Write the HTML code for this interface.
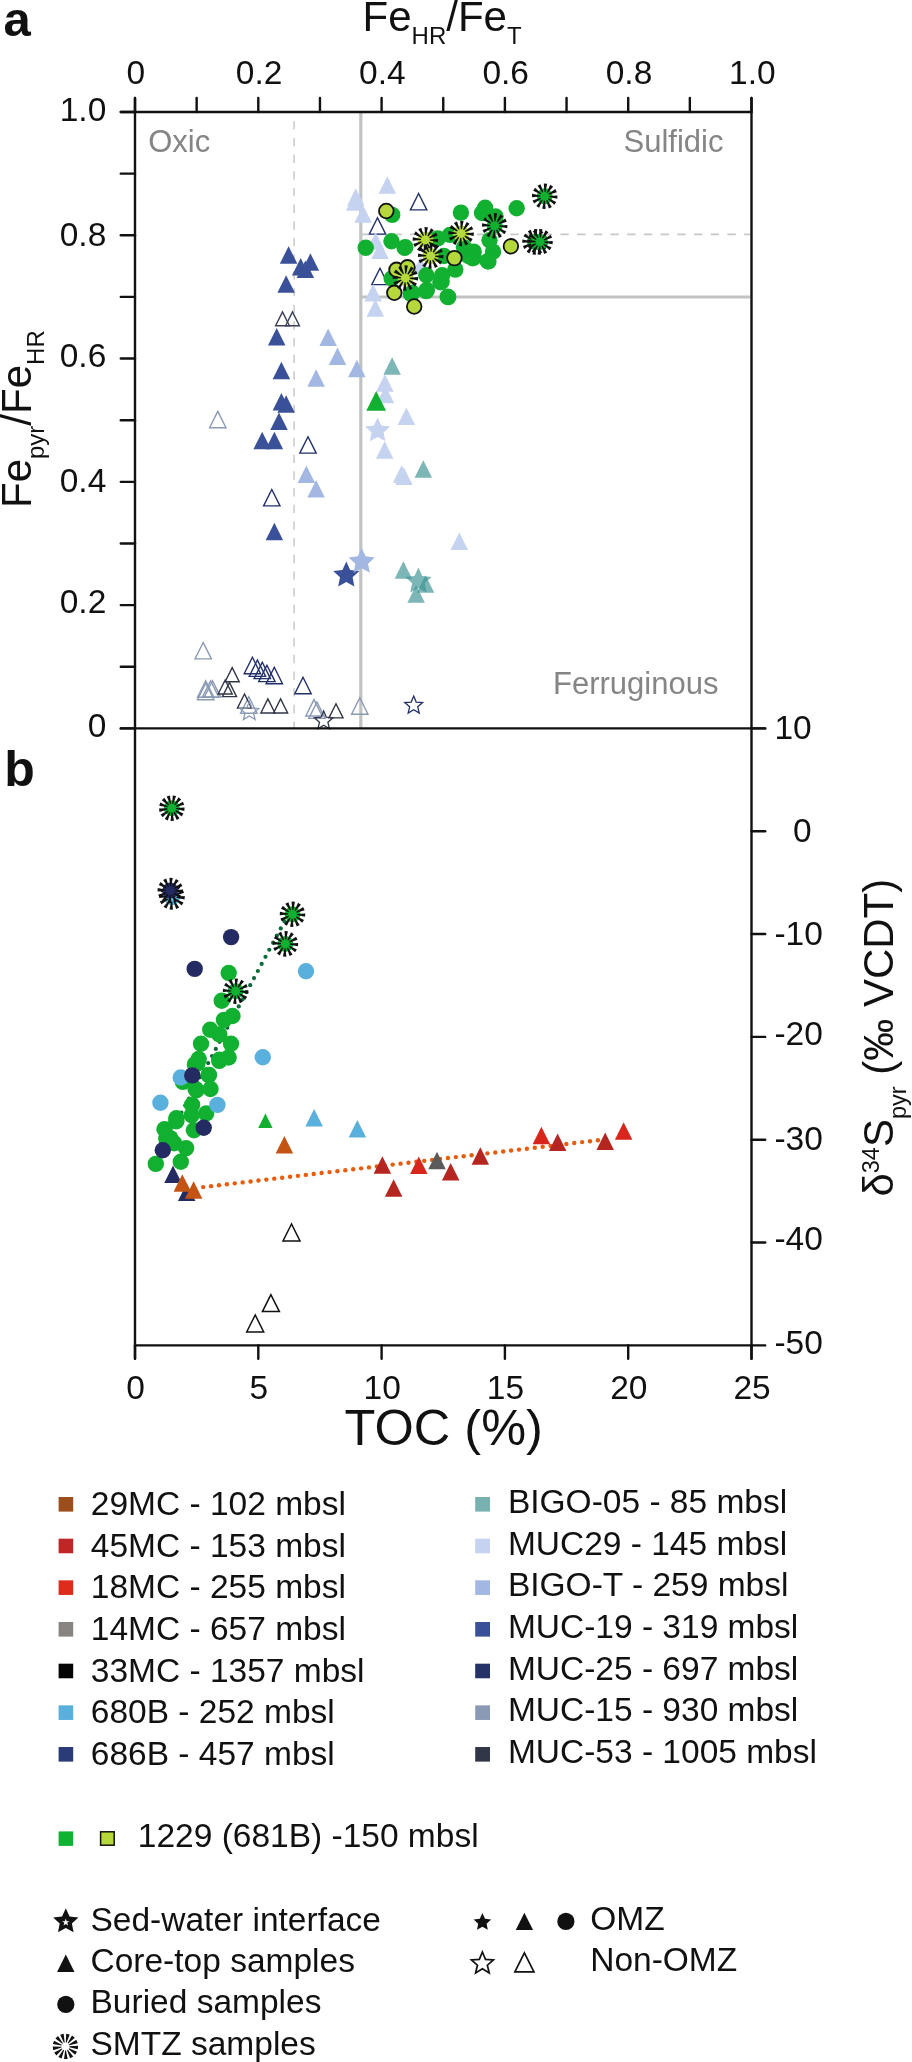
<!DOCTYPE html>
<html><head><meta charset="utf-8"><style>
html,body{margin:0;padding:0;background:#fff;}
body{width:912px;height:2062px;overflow:hidden;font-family:"Liberation Sans",sans-serif;}
svg{display:block;will-change:transform;}
</style></head><body>
<svg width="912" height="2062" viewBox="0 0 912 2062" font-family="Liberation Sans, sans-serif">
<rect width="912" height="2062" fill="#fff"/>
<line x1="294.1" y1="121.2" x2="294.1" y2="728" stroke="#cfcfcf" stroke-width="1.7" stroke-dasharray="8.4 8.275"/>
<line x1="360.8" y1="113" x2="360.8" y2="728" stroke="#c1c3c2" stroke-width="3.2"/>
<line x1="361" y1="297" x2="750" y2="297" stroke="#c1c3c2" stroke-width="3.2"/>
<line x1="360" y1="234.3" x2="750" y2="234.3" stroke="#c8c8c8" stroke-width="1.7" stroke-dasharray="8.4 8.3"/>
<text x="148.2" y="152.2" font-size="31" text-anchor="start" fill="#858585">Oxic</text>
<text x="623.5" y="152.2" font-size="31" text-anchor="start" fill="#858585">Sulfidic</text>
<text x="553" y="694.4" font-size="31" text-anchor="start" fill="#858585">Ferruginous</text>
<polygon points="217.8,411.4 209.6,427.8 226,427.8" fill="none" stroke="#8a9ab5" stroke-width="1.4"/>
<polygon points="203.2,642.5 195,658.9 211.4,658.9" fill="none" stroke="#8a9ab5" stroke-width="1.4"/>
<polygon points="205.7,680.8 197.5,697.2 213.9,697.2" fill="none" stroke="#8a9ab5" stroke-width="1.4"/>
<polygon points="205.7,683.3 197.5,699.7 213.9,699.7" fill="none" stroke="#8a9ab5" stroke-width="1.4"/>
<polygon points="210.6,680.7 202.4,697.1 218.8,697.1" fill="none" stroke="#8a9ab5" stroke-width="1.4"/>
<polygon points="212.5,680.7 204.3,697.1 220.7,697.1" fill="none" stroke="#8a9ab5" stroke-width="1.4"/>
<polygon points="248.8,696.8 240.6,713.2 257,713.2" fill="none" stroke="#8a9ab5" stroke-width="1.4"/>
<polygon points="314,699.6 305.8,716 322.2,716" fill="none" stroke="#8a9ab5" stroke-width="1.4"/>
<polygon points="317,702 308.8,718.4 325.2,718.4" fill="none" stroke="#8a9ab5" stroke-width="1.4"/>
<polygon points="359.8,697.8 351.6,714.2 368,714.2" fill="none" stroke="#8a9ab5" stroke-width="1.4"/>
<polygon points="232.2,667.65 225.15,681.75 239.25,681.75" fill="none" stroke="#323748" stroke-width="1.4"/>
<polygon points="225.2,679.95 218.15,694.05 232.25,694.05" fill="none" stroke="#323748" stroke-width="1.4"/>
<polygon points="229.5,682.55 222.45,696.65 236.55,696.65" fill="none" stroke="#323748" stroke-width="1.4"/>
<polygon points="244.5,694.05 237.45,708.15 251.55,708.15" fill="none" stroke="#323748" stroke-width="1.4"/>
<polygon points="267.9,698.85 260.85,712.95 274.95,712.95" fill="none" stroke="#323748" stroke-width="1.4"/>
<polygon points="280.6,698.85 273.55,712.95 287.65,712.95" fill="none" stroke="#323748" stroke-width="1.4"/>
<polygon points="336,703.75 328.95,717.85 343.05,717.85" fill="none" stroke="#323748" stroke-width="1.4"/>
<polygon points="252.4,657.3 244.2,673.7 260.6,673.7" fill="none" stroke="#22306a" stroke-width="1.4"/>
<polygon points="257.4,660 249.2,676.4 265.6,676.4" fill="none" stroke="#22306a" stroke-width="1.4"/>
<polygon points="262.3,662.2 254.1,678.6 270.5,678.6" fill="none" stroke="#22306a" stroke-width="1.4"/>
<polygon points="266.9,665.2 258.7,681.6 275.1,681.6" fill="none" stroke="#22306a" stroke-width="1.4"/>
<polygon points="274.3,667.3 266.1,683.7 282.5,683.7" fill="none" stroke="#22306a" stroke-width="1.4"/>
<polygon points="303,677.3 294.8,693.7 311.2,693.7" fill="none" stroke="#22306a" stroke-width="1.4"/>
<polygon points="249.3,701.6 251.92,707.9 258.72,708.44 253.54,712.88 255.12,719.51 249.3,715.96 243.48,719.51 245.06,712.88 239.88,708.44 246.68,707.9" fill="none" stroke="#8a9ab5" stroke-width="1.3"/>
<polygon points="323.7,711 326.29,717.23 333.02,717.77 327.89,722.16 329.46,728.73 323.7,725.21 317.94,728.73 319.51,722.16 314.38,717.77 321.11,717.23" fill="none" stroke="#323748" stroke-width="1.3"/>
<polygon points="413.7,696.1 416.19,702.08 422.64,702.6 417.72,706.81 419.23,713.1 413.7,709.73 408.17,713.1 409.68,706.81 404.76,702.6 411.21,702.08" fill="none" stroke="#22306a" stroke-width="1.3"/>
<polygon points="282.5,311.9 275.6,325.7 289.4,325.7" fill="none" stroke="#3a4058" stroke-width="1.4"/>
<polygon points="292.5,311.9 285.6,325.7 299.4,325.7" fill="none" stroke="#3a4058" stroke-width="1.4"/>
<polygon points="308,436.7 299.8,453.1 316.2,453.1" fill="none" stroke="#22306a" stroke-width="1.4"/>
<polygon points="271.8,489.5 263.6,505.9 280,505.9" fill="none" stroke="#22306a" stroke-width="1.4"/>
<polygon points="418.6,193.5 410.4,209.9 426.8,209.9" fill="none" stroke="#22306a" stroke-width="1.4"/>
<polygon points="377.5,217.7 369.3,234.1 385.7,234.1" fill="none" stroke="#22306a" stroke-width="1.4"/>
<polygon points="380,268.2 371.8,284.6 388.2,284.6" fill="none" stroke="#22306a" stroke-width="1.4"/>
<polygon points="288.6,246.15 279.85,263.65 297.35,263.65" fill="#3a5199"/>
<polygon points="300.7,257.95 291.95,275.45 309.45,275.45" fill="#3a5199"/>
<polygon points="310.4,253.35 301.65,270.85 319.15,270.85" fill="#3a5199"/>
<polygon points="305.4,260.55 296.65,278.05 314.15,278.05" fill="#3a5199"/>
<polygon points="286.1,275.15 277.35,292.65 294.85,292.65" fill="#3a5199"/>
<polygon points="276.7,328.05 267.95,345.55 285.45,345.55" fill="#3a5199"/>
<polygon points="281.4,361.65 272.65,379.15 290.15,379.15" fill="#3a5199"/>
<polygon points="281.4,392.95 272.65,410.45 290.15,410.45" fill="#3a5199"/>
<polygon points="286.1,395.35 277.35,412.85 294.85,412.85" fill="#3a5199"/>
<polygon points="279,412.45 270.25,429.95 287.75,429.95" fill="#3a5199"/>
<polygon points="262.2,431.65 253.45,449.15 270.95,449.15" fill="#3a5199"/>
<polygon points="274.4,431.65 265.65,449.15 283.15,449.15" fill="#3a5199"/>
<polygon points="274.4,522.65 265.65,540.15 283.15,540.15" fill="#3a5199"/>
<polygon points="346.3,561.5 350.19,569.94 359.42,571.04 352.6,577.35 354.41,586.46 346.3,581.92 338.19,586.46 340,577.35 333.18,571.04 342.41,569.94" fill="#3a5199"/>
<polygon points="328.1,328.45 319.35,345.95 336.85,345.95" fill="#a3b7e3"/>
<polygon points="337.5,347.55 328.75,365.05 346.25,365.05" fill="#a3b7e3"/>
<polygon points="356.9,359.75 348.15,377.25 365.65,377.25" fill="#a3b7e3"/>
<polygon points="316.1,369.35 307.35,386.85 324.85,386.85" fill="#a3b7e3"/>
<polygon points="306.4,465.55 297.65,483.05 315.15,483.05" fill="#a3b7e3"/>
<polygon points="316.1,480.05 307.35,497.55 324.85,497.55" fill="#a3b7e3"/>
<polygon points="361.7,547.9 365.59,556.34 374.82,557.44 368,563.75 369.81,572.86 361.7,568.32 353.59,572.86 355.4,563.75 348.58,557.44 357.81,556.34" fill="#a3b7e3"/>
<polygon points="355.8,188.25 347.05,205.75 364.55,205.75" fill="#c5d3f0"/>
<polygon points="354.7,193.25 345.95,210.75 363.45,210.75" fill="#c5d3f0"/>
<polygon points="363.1,205.25 354.35,222.75 371.85,222.75" fill="#c5d3f0"/>
<polygon points="387.3,176.35 378.55,193.85 396.05,193.85" fill="#c5d3f0"/>
<polygon points="375.6,232.15 366.85,249.65 384.35,249.65" fill="#c5d3f0"/>
<polygon points="380,241.45 371.25,258.95 388.75,258.95" fill="#c5d3f0"/>
<polygon points="373.1,284.05 364.35,301.55 381.85,301.55" fill="#c5d3f0"/>
<polygon points="375.3,299.35 366.55,316.85 384.05,316.85" fill="#c5d3f0"/>
<polygon points="420.5,256.75 411.75,274.25 429.25,274.25" fill="#c5d3f0"/>
<polygon points="384.9,374.25 376.15,391.75 393.65,391.75" fill="#c5d3f0"/>
<polygon points="385.5,385.75 376.75,403.25 394.25,403.25" fill="#c5d3f0"/>
<polygon points="406.4,407.55 397.65,425.05 415.15,425.05" fill="#c5d3f0"/>
<polygon points="384.7,441.35 375.95,458.85 393.45,458.85" fill="#c5d3f0"/>
<polygon points="401.6,465.15 392.85,482.65 410.35,482.65" fill="#c5d3f0"/>
<polygon points="403.9,467.55 395.15,485.05 412.65,485.05" fill="#c5d3f0"/>
<polygon points="459.3,532.45 450.55,549.95 468.05,549.95" fill="#c5d3f0"/>
<polygon points="377.6,417.4 381.32,425.47 390.15,426.52 383.63,432.56 385.36,441.28 377.6,436.94 369.84,441.28 371.57,432.56 365.05,426.52 373.88,425.47" fill="#c5d3f0"/>
<polygon points="392.1,357.25 383.35,374.75 400.85,374.75" fill="#3e9494" fill-opacity="0.68"/>
<polygon points="423.3,460.15 414.55,477.65 432.05,477.65" fill="#3e9494" fill-opacity="0.68"/>
<polygon points="403.4,561.25 394.65,578.75 412.15,578.75" fill="#3e9494" fill-opacity="0.68"/>
<polygon points="425.5,575.25 416.75,592.75 434.25,592.75" fill="#3e9494" fill-opacity="0.68"/>
<polygon points="416.1,585.35 407.35,602.85 424.85,602.85" fill="#3e9494" fill-opacity="0.68"/>
<polygon points="418.4,567.5 422.29,575.94 431.52,577.04 424.7,583.35 426.51,592.46 418.4,587.92 410.29,592.46 412.1,583.35 405.28,577.04 414.51,575.94" fill="#3e9494" fill-opacity="0.68"/>
<polygon points="376.2,391 366.3,410.8 386.1,410.8" fill="#12b030"/>
<circle cx="392.2" cy="214.9" r="8.2" fill="#12b030"/>
<circle cx="365.7" cy="247.8" r="8.2" fill="#12b030"/>
<circle cx="391.5" cy="241.2" r="8.2" fill="#12b030"/>
<circle cx="404.6" cy="247.8" r="8.2" fill="#12b030"/>
<circle cx="391.7" cy="278.5" r="8.2" fill="#12b030"/>
<circle cx="460.9" cy="212.6" r="8.2" fill="#12b030"/>
<circle cx="485.1" cy="207.7" r="8.2" fill="#12b030"/>
<circle cx="495.6" cy="216.5" r="8.2" fill="#12b030"/>
<circle cx="516.7" cy="208.2" r="8.2" fill="#12b030"/>
<circle cx="405.3" cy="247.2" r="8.2" fill="#12b030"/>
<circle cx="437.7" cy="238.4" r="8.2" fill="#12b030"/>
<circle cx="450" cy="234.9" r="8.2" fill="#12b030"/>
<circle cx="489.5" cy="240.2" r="8.2" fill="#12b030"/>
<circle cx="473.7" cy="251.6" r="8.2" fill="#12b030"/>
<circle cx="493" cy="251.6" r="8.2" fill="#12b030"/>
<circle cx="468.4" cy="256" r="8.2" fill="#12b030"/>
<circle cx="473.7" cy="257.7" r="8.2" fill="#12b030"/>
<circle cx="487.7" cy="261.2" r="8.2" fill="#12b030"/>
<circle cx="443.9" cy="256" r="8.2" fill="#12b030"/>
<circle cx="455.3" cy="269.6" r="8.2" fill="#12b030"/>
<circle cx="442.1" cy="275.3" r="8.2" fill="#12b030"/>
<circle cx="426.3" cy="275.3" r="8.2" fill="#12b030"/>
<circle cx="440.4" cy="282.3" r="8.2" fill="#12b030"/>
<circle cx="426.3" cy="291.1" r="8.2" fill="#12b030"/>
<circle cx="412.3" cy="292.8" r="8.2" fill="#12b030"/>
<circle cx="447.7" cy="296.7" r="8.2" fill="#12b030"/>
<circle cx="464" cy="247.2" r="8.2" fill="#12b030"/>
<circle cx="410.9" cy="293.9" r="8.2" fill="#12b030"/>
<circle cx="426.8" cy="290" r="8.2" fill="#12b030"/>
<circle cx="441.6" cy="281.8" r="8.2" fill="#12b030"/>
<circle cx="448.2" cy="297.1" r="8.2" fill="#12b030"/>
<circle cx="488.4" cy="261.4" r="8.2" fill="#12b030"/>
<circle cx="472.6" cy="258.3" r="8.2" fill="#12b030"/>
<circle cx="482" cy="213" r="8.2" fill="#12b030"/>
<circle cx="386.3" cy="211" r="7.3" fill="#b5d93c" stroke="#111" stroke-width="1.8"/>
<circle cx="396.5" cy="269.8" r="7.3" fill="#b5d93c" stroke="#111" stroke-width="1.8"/>
<circle cx="407.5" cy="267.3" r="7.3" fill="#b5d93c" stroke="#111" stroke-width="1.8"/>
<circle cx="394.3" cy="292.8" r="7.3" fill="#b5d93c" stroke="#111" stroke-width="1.8"/>
<circle cx="414.2" cy="306.5" r="7.3" fill="#b5d93c" stroke="#111" stroke-width="1.8"/>
<circle cx="454.4" cy="258.1" r="7.3" fill="#b5d93c" stroke="#111" stroke-width="1.8"/>
<circle cx="510.9" cy="246.3" r="7.3" fill="#b5d93c" stroke="#111" stroke-width="1.8"/>
<circle cx="425.4" cy="239.8" r="8" fill="#b5d93c"/>
<path d="M429.76 240.62 L437.97 242.27 L438.18 238.88 L429.83 239.52ZM428.77 242.69 L435.05 248.23 L436.93 245.39 L429.37 241.77ZM426.87 243.98 L429.55 251.92 L432.59 250.41 L427.86 243.49ZM424.58 244.16 L422.93 252.37 L426.32 252.58 L425.68 244.23ZM422.51 243.17 L416.97 249.45 L419.81 251.33 L423.43 243.77ZM421.22 241.27 L413.28 243.95 L414.79 246.99 L421.71 242.26ZM421.04 238.98 L412.83 237.33 L412.62 240.72 L420.97 240.08ZM422.03 236.91 L415.75 231.37 L413.87 234.21 L421.43 237.83ZM423.93 235.62 L421.25 227.68 L418.21 229.19 L422.94 236.11ZM426.22 235.44 L427.87 227.23 L424.48 227.02 L425.12 235.37ZM428.29 236.43 L433.83 230.15 L430.99 228.27 L427.37 235.83ZM429.58 238.33 L437.52 235.65 L436.01 232.61 L429.09 237.34Z" fill="#111"/>
<circle cx="430.7" cy="256" r="8" fill="#b5d93c"/>
<path d="M435.06 256.82 L443.27 258.47 L443.48 255.08 L435.13 255.72ZM434.07 258.89 L440.35 264.43 L442.23 261.59 L434.67 257.97ZM432.17 260.18 L434.85 268.12 L437.89 266.61 L433.16 259.69ZM429.88 260.36 L428.23 268.57 L431.62 268.78 L430.98 260.43ZM427.81 259.37 L422.27 265.65 L425.11 267.53 L428.73 259.97ZM426.52 257.47 L418.58 260.15 L420.09 263.19 L427.01 258.46ZM426.34 255.18 L418.13 253.53 L417.92 256.92 L426.27 256.28ZM427.33 253.11 L421.05 247.57 L419.17 250.41 L426.73 254.03ZM429.23 251.82 L426.55 243.88 L423.51 245.39 L428.24 252.31ZM431.52 251.64 L433.17 243.43 L429.78 243.22 L430.42 251.57ZM433.59 252.63 L439.13 246.35 L436.29 244.47 L432.67 252.03ZM434.88 254.53 L442.82 251.85 L441.31 248.81 L434.39 253.54Z" fill="#111"/>
<circle cx="461.1" cy="233.5" r="8" fill="#b5d93c"/>
<path d="M465.46 234.32 L473.67 235.97 L473.88 232.58 L465.53 233.22ZM464.47 236.39 L470.75 241.93 L472.63 239.09 L465.07 235.47ZM462.57 237.68 L465.25 245.62 L468.29 244.11 L463.56 237.19ZM460.28 237.86 L458.63 246.07 L462.02 246.28 L461.38 237.93ZM458.21 236.87 L452.67 243.15 L455.51 245.03 L459.13 237.47ZM456.92 234.97 L448.98 237.65 L450.49 240.69 L457.41 235.96ZM456.74 232.68 L448.53 231.03 L448.32 234.42 L456.67 233.78ZM457.73 230.61 L451.45 225.07 L449.57 227.91 L457.13 231.53ZM459.63 229.32 L456.95 221.38 L453.91 222.89 L458.64 229.81ZM461.92 229.14 L463.57 220.93 L460.18 220.72 L460.82 229.07ZM463.99 230.13 L469.53 223.85 L466.69 221.97 L463.07 229.53ZM465.28 232.03 L473.22 229.35 L471.71 226.31 L464.79 231.04Z" fill="#111"/>
<circle cx="405.4" cy="278" r="8" fill="#b5d93c"/>
<path d="M409.76 278.82 L417.97 280.47 L418.18 277.08 L409.83 277.72ZM408.77 280.89 L415.05 286.43 L416.93 283.59 L409.37 279.97ZM406.87 282.18 L409.55 290.12 L412.59 288.61 L407.86 281.69ZM404.58 282.36 L402.93 290.57 L406.32 290.78 L405.68 282.43ZM402.51 281.37 L396.97 287.65 L399.81 289.53 L403.43 281.97ZM401.22 279.47 L393.28 282.15 L394.79 285.19 L401.71 280.46ZM401.04 277.18 L392.83 275.53 L392.62 278.92 L400.97 278.28ZM402.03 275.11 L395.75 269.57 L393.87 272.41 L401.43 276.03ZM403.93 273.82 L401.25 265.88 L398.21 267.39 L402.94 274.31ZM406.22 273.64 L407.87 265.43 L404.48 265.22 L405.12 273.57ZM408.29 274.63 L413.83 268.35 L410.99 266.47 L407.37 274.03ZM409.58 276.53 L417.52 273.85 L416.01 270.81 L409.09 275.54Z" fill="#111"/>
<circle cx="544.7" cy="196.3" r="8" fill="#12b030"/>
<path d="M549.06 197.12 L557.27 198.77 L557.48 195.38 L549.13 196.02ZM548.07 199.19 L554.35 204.73 L556.23 201.89 L548.67 198.27ZM546.17 200.48 L548.85 208.42 L551.89 206.91 L547.16 199.99ZM543.88 200.66 L542.23 208.87 L545.62 209.08 L544.98 200.73ZM541.81 199.67 L536.27 205.95 L539.11 207.83 L542.73 200.27ZM540.52 197.77 L532.58 200.45 L534.09 203.49 L541.01 198.76ZM540.34 195.48 L532.13 193.83 L531.92 197.22 L540.27 196.58ZM541.33 193.41 L535.05 187.87 L533.17 190.71 L540.73 194.33ZM543.23 192.12 L540.55 184.18 L537.51 185.69 L542.24 192.61ZM545.52 191.94 L547.17 183.73 L543.78 183.52 L544.42 191.87ZM547.59 192.93 L553.13 186.65 L550.29 184.77 L546.67 192.33ZM548.88 194.83 L556.82 192.15 L555.31 189.11 L548.39 193.84Z" fill="#111"/>
<circle cx="494.7" cy="225.8" r="8" fill="#12b030"/>
<path d="M499.06 226.62 L507.27 228.27 L507.48 224.88 L499.13 225.52ZM498.07 228.69 L504.35 234.23 L506.23 231.39 L498.67 227.77ZM496.17 229.98 L498.85 237.92 L501.89 236.41 L497.16 229.49ZM493.88 230.16 L492.23 238.37 L495.62 238.58 L494.98 230.23ZM491.81 229.17 L486.27 235.45 L489.11 237.33 L492.73 229.77ZM490.52 227.27 L482.58 229.95 L484.09 232.99 L491.01 228.26ZM490.34 224.98 L482.13 223.33 L481.92 226.72 L490.27 226.08ZM491.33 222.91 L485.05 217.37 L483.17 220.21 L490.73 223.83ZM493.23 221.62 L490.55 213.68 L487.51 215.19 L492.24 222.11ZM495.52 221.44 L497.17 213.23 L493.78 213.02 L494.42 221.37ZM497.59 222.43 L503.13 216.15 L500.29 214.27 L496.67 221.83ZM498.88 224.33 L506.82 221.65 L505.31 218.61 L498.39 223.34Z" fill="#111"/>
<circle cx="535" cy="241.9" r="8" fill="#12b030"/>
<path d="M539.36 242.72 L547.57 244.37 L547.78 240.98 L539.43 241.62ZM538.37 244.79 L544.65 250.33 L546.53 247.49 L538.97 243.87ZM536.47 246.08 L539.15 254.02 L542.19 252.51 L537.46 245.59ZM534.18 246.26 L532.53 254.47 L535.92 254.68 L535.28 246.33ZM532.11 245.27 L526.57 251.55 L529.41 253.43 L533.03 245.87ZM530.82 243.37 L522.88 246.05 L524.39 249.09 L531.31 244.36ZM530.64 241.08 L522.43 239.43 L522.22 242.82 L530.57 242.18ZM531.63 239.01 L525.35 233.47 L523.47 236.31 L531.03 239.93ZM533.53 237.72 L530.85 229.78 L527.81 231.29 L532.54 238.21ZM535.82 237.54 L537.47 229.33 L534.08 229.12 L534.72 237.47ZM537.89 238.53 L543.43 232.25 L540.59 230.37 L536.97 237.93ZM539.18 240.43 L547.12 237.75 L545.61 234.71 L538.69 239.44Z" fill="#111"/>
<circle cx="540" cy="241.9" r="8" fill="#12b030"/>
<path d="M544.36 242.72 L552.57 244.37 L552.78 240.98 L544.43 241.62ZM543.37 244.79 L549.65 250.33 L551.53 247.49 L543.97 243.87ZM541.47 246.08 L544.15 254.02 L547.19 252.51 L542.46 245.59ZM539.18 246.26 L537.53 254.47 L540.92 254.68 L540.28 246.33ZM537.11 245.27 L531.57 251.55 L534.41 253.43 L538.03 245.87ZM535.82 243.37 L527.88 246.05 L529.39 249.09 L536.31 244.36ZM535.64 241.08 L527.43 239.43 L527.22 242.82 L535.57 242.18ZM536.63 239.01 L530.35 233.47 L528.47 236.31 L536.03 239.93ZM538.53 237.72 L535.85 229.78 L532.81 231.29 L537.54 238.21ZM540.82 237.54 L542.47 229.33 L539.08 229.12 L539.72 237.47ZM542.89 238.53 L548.43 232.25 L545.59 230.37 L541.97 237.93ZM544.18 240.43 L552.12 237.75 L550.61 234.71 L543.69 239.44Z" fill="#111"/>
<g fill="#0c6a38"><circle cx="288.4" cy="914.3" r="2.1"/><circle cx="284.58" cy="921.39" r="2.1"/><circle cx="280.76" cy="928.47" r="2.1"/><circle cx="276.94" cy="935.56" r="2.1"/><circle cx="273.12" cy="942.64" r="2.1"/><circle cx="269.3" cy="949.73" r="2.1"/><circle cx="265.48" cy="956.81" r="2.1"/><circle cx="261.66" cy="963.9" r="2.1"/><circle cx="257.84" cy="970.99" r="2.1"/><circle cx="254.02" cy="978.07" r="2.1"/><circle cx="250.2" cy="985.16" r="2.1"/><circle cx="246.38" cy="992.24" r="2.1"/><circle cx="242.56" cy="999.33" r="2.1"/><circle cx="238.74" cy="1006.41" r="2.1"/><circle cx="234.92" cy="1013.5" r="2.1"/><circle cx="231.1" cy="1020.59" r="2.1"/><circle cx="227.28" cy="1027.67" r="2.1"/><circle cx="223.46" cy="1034.76" r="2.1"/><circle cx="219.64" cy="1041.84" r="2.1"/><circle cx="215.81" cy="1048.93" r="2.1"/><circle cx="211.99" cy="1056.02" r="2.1"/><circle cx="208.17" cy="1063.1" r="2.1"/><circle cx="204.35" cy="1070.19" r="2.1"/><circle cx="200.53" cy="1077.27" r="2.1"/><circle cx="196.71" cy="1084.36" r="2.1"/><circle cx="192.89" cy="1091.44" r="2.1"/><circle cx="189.07" cy="1098.53" r="2.1"/><circle cx="185.25" cy="1105.62" r="2.1"/><circle cx="181.43" cy="1112.7" r="2.1"/><circle cx="177.61" cy="1119.79" r="2.1"/><circle cx="173.79" cy="1126.87" r="2.1"/></g>
<g fill="#e65c0c"><circle cx="203.2" cy="1187.1" r="2.2"/><circle cx="211.09" cy="1186.16" r="2.2"/><circle cx="218.99" cy="1185.23" r="2.2"/><circle cx="226.88" cy="1184.29" r="2.2"/><circle cx="234.78" cy="1183.35" r="2.2"/><circle cx="242.67" cy="1182.41" r="2.2"/><circle cx="250.57" cy="1181.48" r="2.2"/><circle cx="258.46" cy="1180.54" r="2.2"/><circle cx="266.36" cy="1179.6" r="2.2"/><circle cx="274.25" cy="1178.67" r="2.2"/><circle cx="282.15" cy="1177.73" r="2.2"/><circle cx="290.04" cy="1176.79" r="2.2"/><circle cx="297.94" cy="1175.86" r="2.2"/><circle cx="305.83" cy="1174.92" r="2.2"/><circle cx="313.72" cy="1173.98" r="2.2"/><circle cx="321.62" cy="1173.04" r="2.2"/><circle cx="329.51" cy="1172.11" r="2.2"/><circle cx="337.41" cy="1171.17" r="2.2"/><circle cx="345.3" cy="1170.23" r="2.2"/><circle cx="353.2" cy="1169.3" r="2.2"/><circle cx="361.09" cy="1168.36" r="2.2"/><circle cx="368.99" cy="1167.42" r="2.2"/><circle cx="376.88" cy="1166.49" r="2.2"/><circle cx="384.78" cy="1165.55" r="2.2"/><circle cx="392.67" cy="1164.61" r="2.2"/><circle cx="400.56" cy="1163.67" r="2.2"/><circle cx="408.46" cy="1162.74" r="2.2"/><circle cx="416.35" cy="1161.8" r="2.2"/><circle cx="424.25" cy="1160.86" r="2.2"/><circle cx="432.14" cy="1159.93" r="2.2"/><circle cx="440.04" cy="1158.99" r="2.2"/><circle cx="447.93" cy="1158.05" r="2.2"/><circle cx="455.83" cy="1157.11" r="2.2"/><circle cx="463.72" cy="1156.18" r="2.2"/><circle cx="471.62" cy="1155.24" r="2.2"/><circle cx="479.51" cy="1154.3" r="2.2"/><circle cx="487.41" cy="1153.37" r="2.2"/><circle cx="495.3" cy="1152.43" r="2.2"/><circle cx="503.19" cy="1151.49" r="2.2"/><circle cx="511.09" cy="1150.56" r="2.2"/><circle cx="518.98" cy="1149.62" r="2.2"/><circle cx="526.88" cy="1148.68" r="2.2"/><circle cx="534.77" cy="1147.74" r="2.2"/><circle cx="542.67" cy="1146.81" r="2.2"/><circle cx="550.56" cy="1145.87" r="2.2"/><circle cx="558.46" cy="1144.93" r="2.2"/><circle cx="566.35" cy="1144" r="2.2"/><circle cx="574.25" cy="1143.06" r="2.2"/><circle cx="582.14" cy="1142.12" r="2.2"/><circle cx="590.03" cy="1141.19" r="2.2"/><circle cx="597.93" cy="1140.25" r="2.2"/><circle cx="605.82" cy="1139.31" r="2.2"/></g>
<circle cx="228.7" cy="973" r="8.2" fill="#12b030"/>
<circle cx="221.7" cy="1000.7" r="8.2" fill="#12b030"/>
<circle cx="232.5" cy="1016" r="8.2" fill="#12b030"/>
<circle cx="224" cy="1019.9" r="8.2" fill="#12b030"/>
<circle cx="210.2" cy="1029.8" r="8.2" fill="#12b030"/>
<circle cx="219.4" cy="1034.5" r="8.2" fill="#12b030"/>
<circle cx="231" cy="1043.7" r="8.2" fill="#12b030"/>
<circle cx="201" cy="1043.7" r="8.2" fill="#12b030"/>
<circle cx="198.7" cy="1059" r="8.2" fill="#12b030"/>
<circle cx="194.9" cy="1064.4" r="8.2" fill="#12b030"/>
<circle cx="219.4" cy="1059.8" r="8.2" fill="#12b030"/>
<circle cx="228.6" cy="1057.5" r="8.2" fill="#12b030"/>
<circle cx="208.7" cy="1075.1" r="8.2" fill="#12b030"/>
<circle cx="182.9" cy="1081.9" r="8.2" fill="#12b030"/>
<circle cx="197.4" cy="1063.5" r="8.2" fill="#12b030"/>
<circle cx="219.3" cy="1060.9" r="8.2" fill="#12b030"/>
<circle cx="208.8" cy="1074.9" r="8.2" fill="#12b030"/>
<circle cx="196.5" cy="1090.3" r="8.2" fill="#12b030"/>
<circle cx="210.5" cy="1089" r="8.2" fill="#12b030"/>
<circle cx="192.1" cy="1104.7" r="8.2" fill="#12b030"/>
<circle cx="191.7" cy="1115.3" r="8.2" fill="#12b030"/>
<circle cx="206.1" cy="1113.5" r="8.2" fill="#12b030"/>
<circle cx="176.3" cy="1118.3" r="8.2" fill="#12b030"/>
<circle cx="193.9" cy="1130.2" r="8.2" fill="#12b030"/>
<circle cx="164.5" cy="1129.3" r="8.2" fill="#12b030"/>
<circle cx="170.2" cy="1138.1" r="8.2" fill="#12b030"/>
<circle cx="176.4" cy="1121.3" r="8.2" fill="#12b030"/>
<circle cx="174.2" cy="1143.2" r="8.2" fill="#12b030"/>
<circle cx="186.1" cy="1148.1" r="8.2" fill="#12b030"/>
<circle cx="180.8" cy="1161.7" r="8.2" fill="#12b030"/>
<circle cx="155.8" cy="1163.9" r="8.2" fill="#12b030"/>
<circle cx="166.3" cy="1138.9" r="8.2" fill="#12b030"/>
<circle cx="195.6" cy="1089" r="8.2" fill="#12b030"/>
<circle cx="306" cy="971.2" r="8.2" fill="#5ab0dc"/>
<circle cx="262.8" cy="1057.2" r="8.2" fill="#5ab0dc"/>
<circle cx="180.7" cy="1077.5" r="8.2" fill="#5ab0dc"/>
<circle cx="160.4" cy="1102.8" r="8.2" fill="#5ab0dc"/>
<circle cx="217.4" cy="1104.9" r="8.2" fill="#5ab0dc"/>
<circle cx="231.1" cy="937.1" r="8.2" fill="#242a62"/>
<circle cx="194.7" cy="968.9" r="8.2" fill="#242a62"/>
<circle cx="192.3" cy="1075.4" r="8.2" fill="#242a62"/>
<circle cx="203.7" cy="1127.7" r="8.2" fill="#242a62"/>
<circle cx="162.8" cy="1150.3" r="8.2" fill="#242a62"/>
<circle cx="171.8" cy="808.2" r="8" fill="#12b030"/>
<path d="M176.14 809.12 L184.31 810.96 L184.6 807.57 L176.23 808.02ZM175.22 811.03 L181.6 816.46 L183.43 813.59 L175.81 810.1ZM173.51 812.29 L176.64 820.06 L179.59 818.37 L174.46 811.74ZM171.41 812.62 L170.57 820.95 L173.97 820.83 L172.51 812.58ZM169.4 811.93 L164.79 818.92 L167.85 820.39 L170.4 812.41ZM167.94 810.39 L160.61 814.43 L162.64 817.16 L168.6 811.27ZM167.37 808.35 L158.99 808.52 L159.53 811.88 L167.54 809.43ZM167.81 806.27 L160.31 802.53 L159.22 805.75 L167.46 807.31ZM169.16 804.64 L164.26 797.84 L161.8 800.19 L168.36 805.4ZM171.12 803.82 L169.94 795.52 L166.67 796.46 L170.06 804.12ZM173.23 804 L176.04 796.11 L172.72 795.42 L172.16 803.78ZM175.02 805.15 L181.18 799.47 L178.55 797.31 L174.17 804.45ZM176.07 807 L184.16 804.83 L182.84 801.69 L175.64 805.98Z" fill="#111"/>
<circle cx="292.5" cy="914.3" r="8" fill="#12b030"/>
<path d="M296.86 915.12 L305.07 916.77 L305.28 913.38 L296.93 914.02ZM295.87 917.19 L302.15 922.73 L304.03 919.89 L296.47 916.27ZM293.97 918.48 L296.65 926.42 L299.69 924.91 L294.96 917.99ZM291.68 918.66 L290.03 926.87 L293.42 927.08 L292.78 918.73ZM289.61 917.67 L284.07 923.95 L286.91 925.83 L290.53 918.27ZM288.32 915.77 L280.38 918.45 L281.89 921.49 L288.81 916.76ZM288.14 913.48 L279.93 911.83 L279.72 915.22 L288.07 914.58ZM289.13 911.41 L282.85 905.87 L280.97 908.71 L288.53 912.33ZM291.03 910.12 L288.35 902.18 L285.31 903.69 L290.04 910.61ZM293.32 909.94 L294.97 901.73 L291.58 901.52 L292.22 909.87ZM295.39 910.93 L300.93 904.65 L298.09 902.77 L294.47 910.33ZM296.68 912.83 L304.62 910.15 L303.11 907.11 L296.19 911.84Z" fill="#111"/>
<circle cx="285.4" cy="943.9" r="8" fill="#12b030"/>
<path d="M289.76 944.72 L297.97 946.37 L298.18 942.98 L289.83 943.62ZM288.77 946.79 L295.05 952.33 L296.93 949.49 L289.37 945.87ZM286.87 948.08 L289.55 956.02 L292.59 954.51 L287.86 947.59ZM284.58 948.26 L282.93 956.47 L286.32 956.68 L285.68 948.33ZM282.51 947.27 L276.97 953.55 L279.81 955.43 L283.43 947.87ZM281.22 945.37 L273.28 948.05 L274.79 951.09 L281.71 946.36ZM281.04 943.08 L272.83 941.43 L272.62 944.82 L280.97 944.18ZM282.03 941.01 L275.75 935.47 L273.87 938.31 L281.43 941.93ZM283.93 939.72 L281.25 931.78 L278.21 933.29 L282.94 940.21ZM286.22 939.54 L287.87 931.33 L284.48 931.12 L285.12 939.47ZM288.29 940.53 L293.83 934.25 L290.99 932.37 L287.37 939.93ZM289.58 942.43 L297.52 939.75 L296.01 936.71 L289.09 941.44Z" fill="#111"/>
<circle cx="235.6" cy="991.2" r="8" fill="#12b030"/>
<path d="M239.96 992.02 L248.17 993.67 L248.38 990.28 L240.03 990.92ZM238.97 994.09 L245.25 999.63 L247.13 996.79 L239.57 993.17ZM237.07 995.38 L239.75 1003.32 L242.79 1001.81 L238.06 994.89ZM234.78 995.56 L233.13 1003.77 L236.52 1003.98 L235.88 995.63ZM232.71 994.57 L227.17 1000.85 L230.01 1002.73 L233.63 995.17ZM231.42 992.67 L223.48 995.35 L224.99 998.39 L231.91 993.66ZM231.24 990.38 L223.03 988.73 L222.82 992.12 L231.17 991.48ZM232.23 988.31 L225.95 982.77 L224.07 985.61 L231.63 989.23ZM234.13 987.02 L231.45 979.08 L228.41 980.59 L233.14 987.51ZM236.42 986.84 L238.07 978.63 L234.68 978.42 L235.32 986.77ZM238.49 987.83 L244.03 981.55 L241.19 979.67 L237.57 987.23ZM239.78 989.73 L247.72 987.05 L246.21 984.01 L239.29 988.74Z" fill="#111"/>
<circle cx="172" cy="897" r="8" fill="#5ab0dc"/>
<path d="M176.36 897.82 L184.57 899.47 L184.78 896.08 L176.43 896.72ZM175.37 899.89 L181.65 905.43 L183.53 902.59 L175.97 898.97ZM173.47 901.18 L176.15 909.12 L179.19 907.61 L174.46 900.69ZM171.18 901.36 L169.53 909.57 L172.92 909.78 L172.28 901.43ZM169.11 900.37 L163.57 906.65 L166.41 908.53 L170.03 900.97ZM167.82 898.47 L159.88 901.15 L161.39 904.19 L168.31 899.46ZM167.64 896.18 L159.43 894.53 L159.22 897.92 L167.57 897.28ZM168.63 894.11 L162.35 888.57 L160.47 891.41 L168.03 895.03ZM170.53 892.82 L167.85 884.88 L164.81 886.39 L169.54 893.31ZM172.82 892.64 L174.47 884.43 L171.08 884.22 L171.72 892.57ZM174.89 893.63 L180.43 887.35 L177.59 885.47 L173.97 893.03ZM176.18 895.53 L184.12 892.85 L182.61 889.81 L175.69 894.54Z" fill="#111"/>
<circle cx="170.3" cy="890.5" r="8" fill="#242a62"/>
<path d="M174.66 891.32 L182.87 892.97 L183.08 889.58 L174.73 890.22ZM173.67 893.39 L179.95 898.93 L181.83 896.09 L174.27 892.47ZM171.77 894.68 L174.45 902.62 L177.49 901.11 L172.76 894.19ZM169.48 894.86 L167.83 903.07 L171.22 903.28 L170.58 894.93ZM167.41 893.87 L161.87 900.15 L164.71 902.03 L168.33 894.47ZM166.12 891.97 L158.18 894.65 L159.69 897.69 L166.61 892.96ZM165.94 889.68 L157.73 888.03 L157.52 891.42 L165.87 890.78ZM166.93 887.61 L160.65 882.07 L158.77 884.91 L166.33 888.53ZM168.83 886.32 L166.15 878.38 L163.11 879.89 L167.84 886.81ZM171.12 886.14 L172.77 877.93 L169.38 877.72 L170.02 886.07ZM173.19 887.13 L178.73 880.85 L175.89 878.97 L172.27 886.53ZM174.48 889.03 L182.42 886.35 L180.91 883.31 L173.99 888.04Z" fill="#111"/>
<polygon points="265.4,1113.5 258.2,1127.9 272.6,1127.9" fill="#12b030"/>
<polygon points="314.1,1108.95 305.35,1126.45 322.85,1126.45" fill="#5ab0dc"/>
<polygon points="357.4,1119.95 348.65,1137.45 366.15,1137.45" fill="#5ab0dc"/>
<polygon points="284.4,1135.95 275.65,1153.45 293.15,1153.45" fill="#c45414"/>
<polygon points="173,1165.45 164.25,1182.95 181.75,1182.95" fill="#242a62"/>
<polygon points="186.7,1183.55 177.95,1201.05 195.45,1201.05" fill="#242a62"/>
<polygon points="182.3,1174.35 173.55,1191.85 191.05,1191.85" fill="#c45414"/>
<polygon points="193.6,1181.15 184.85,1198.65 202.35,1198.65" fill="#c45414"/>
<polygon points="382.4,1156.15 373.65,1173.65 391.15,1173.65" fill="#b52620"/>
<polygon points="393.6,1179.25 384.85,1196.75 402.35,1196.75" fill="#b52620"/>
<polygon points="450.7,1162.95 441.95,1180.45 459.45,1180.45" fill="#b52620"/>
<polygon points="480.3,1147.25 471.55,1164.75 489.05,1164.75" fill="#b52620"/>
<polygon points="557.6,1133.45 548.85,1150.95 566.35,1150.95" fill="#b52620"/>
<polygon points="605.2,1132.55 596.45,1150.05 613.95,1150.05" fill="#b52620"/>
<polygon points="418.8,1156.45 410.05,1173.95 427.55,1173.95" fill="#d9261c"/>
<polygon points="541.4,1126.75 532.65,1144.25 550.15,1144.25" fill="#d9261c"/>
<polygon points="623.6,1122.15 614.85,1139.65 632.35,1139.65" fill="#d9261c"/>
<polygon points="437,1151.85 428.25,1169.35 445.75,1169.35" fill="#5a5a5a"/>
<polygon points="291.5,1224 283,1241 300,1241" fill="none" stroke="#111" stroke-width="1.5"/>
<polygon points="270.9,1294.6 262.4,1311.6 279.4,1311.6" fill="none" stroke="#111" stroke-width="1.5"/>
<polygon points="255.2,1315 246.7,1332 263.7,1332" fill="none" stroke="#111" stroke-width="1.5"/>
<g stroke="#111" stroke-width="2.4" stroke-linecap="round" fill="none">
<line x1="120.8" y1="112.0" x2="751.5" y2="112.0"/>
<line x1="120.8" y1="728.4" x2="765.2" y2="728.4"/>
<line x1="135.0" y1="1345.4" x2="751.5" y2="1345.4"/>
<line x1="135.0" y1="98.0" x2="135.0" y2="1358.8"/>
<line x1="751.5" y1="98.0" x2="751.5" y2="1358.8"/>
<line x1="135" y1="98.0" x2="135" y2="112.0"/>
<line x1="196.65" y1="98.0" x2="196.65" y2="112.0"/>
<line x1="258.3" y1="98.0" x2="258.3" y2="112.0"/>
<line x1="319.95" y1="98.0" x2="319.95" y2="112.0"/>
<line x1="381.6" y1="98.0" x2="381.6" y2="112.0"/>
<line x1="443.25" y1="98.0" x2="443.25" y2="112.0"/>
<line x1="504.9" y1="98.0" x2="504.9" y2="112.0"/>
<line x1="566.55" y1="98.0" x2="566.55" y2="112.0"/>
<line x1="628.2" y1="98.0" x2="628.2" y2="112.0"/>
<line x1="689.85" y1="98.0" x2="689.85" y2="112.0"/>
<line x1="751.5" y1="98.0" x2="751.5" y2="112.0"/>
<line x1="120.8" y1="728.4" x2="135.0" y2="728.4"/>
<line x1="120.8" y1="666.76" x2="135.0" y2="666.76"/>
<line x1="120.8" y1="605.12" x2="135.0" y2="605.12"/>
<line x1="120.8" y1="543.48" x2="135.0" y2="543.48"/>
<line x1="120.8" y1="481.84" x2="135.0" y2="481.84"/>
<line x1="120.8" y1="420.2" x2="135.0" y2="420.2"/>
<line x1="120.8" y1="358.56" x2="135.0" y2="358.56"/>
<line x1="120.8" y1="296.92" x2="135.0" y2="296.92"/>
<line x1="120.8" y1="235.28" x2="135.0" y2="235.28"/>
<line x1="120.8" y1="173.64" x2="135.0" y2="173.64"/>
<line x1="120.8" y1="112" x2="135.0" y2="112"/>
<line x1="751.5" y1="728.4" x2="765.2" y2="728.4"/>
<line x1="751.5" y1="831.23" x2="765.2" y2="831.23"/>
<line x1="751.5" y1="934.07" x2="765.2" y2="934.07"/>
<line x1="751.5" y1="1036.9" x2="765.2" y2="1036.9"/>
<line x1="751.5" y1="1139.73" x2="765.2" y2="1139.73"/>
<line x1="751.5" y1="1242.57" x2="765.2" y2="1242.57"/>
<line x1="751.5" y1="1345.4" x2="765.2" y2="1345.4"/>
<line x1="135" y1="1345.4" x2="135" y2="1358.8"/>
<line x1="258.3" y1="1345.4" x2="258.3" y2="1358.8"/>
<line x1="381.6" y1="1345.4" x2="381.6" y2="1358.8"/>
<line x1="504.9" y1="1345.4" x2="504.9" y2="1358.8"/>
<line x1="628.2" y1="1345.4" x2="628.2" y2="1358.8"/>
<line x1="751.5" y1="1345.4" x2="751.5" y2="1358.8"/>
</g>
<text x="135.8" y="84.3" font-size="33.5" text-anchor="middle" fill="#111">0</text>
<text x="259.1" y="84.3" font-size="33.5" text-anchor="middle" fill="#111">0.2</text>
<text x="382.4" y="84.3" font-size="33.5" text-anchor="middle" fill="#111">0.4</text>
<text x="505.7" y="84.3" font-size="33.5" text-anchor="middle" fill="#111">0.6</text>
<text x="629" y="84.3" font-size="33.5" text-anchor="middle" fill="#111">0.8</text>
<text x="752.3" y="84.3" font-size="33.5" text-anchor="middle" fill="#111">1.0</text>
<text x="106.3" y="737.3" font-size="33.5" text-anchor="end" fill="#111">0</text>
<text x="106.3" y="612.7" font-size="33.5" text-anchor="end" fill="#111">0.2</text>
<text x="106.3" y="491.6" font-size="33.5" text-anchor="end" fill="#111">0.4</text>
<text x="106.3" y="366.6" font-size="33.5" text-anchor="end" fill="#111">0.6</text>
<text x="106.3" y="245.6" font-size="33.5" text-anchor="end" fill="#111">0.8</text>
<text x="106.3" y="121" font-size="33.5" text-anchor="end" fill="#111">1.0</text>
<text x="774.4" y="739.2" font-size="33.5" text-anchor="start" fill="#111">10</text>
<text x="793" y="841.6" font-size="33.5" text-anchor="start" fill="#111">0</text>
<text x="774.4" y="944.5" font-size="33.5" text-anchor="start" fill="#111">-10</text>
<text x="774.4" y="1044.7" font-size="33.5" text-anchor="start" fill="#111">-20</text>
<text x="774.4" y="1149.5" font-size="33.5" text-anchor="start" fill="#111">-30</text>
<text x="774.4" y="1250.1" font-size="33.5" text-anchor="start" fill="#111">-40</text>
<text x="774.4" y="1354.4" font-size="33.5" text-anchor="start" fill="#111">-50</text>
<text x="135.6" y="1398.8" font-size="33.5" text-anchor="middle" fill="#111">0</text>
<text x="258.9" y="1398.8" font-size="33.5" text-anchor="middle" fill="#111">5</text>
<text x="382.2" y="1398.8" font-size="33.5" text-anchor="middle" fill="#111">10</text>
<text x="505.5" y="1398.8" font-size="33.5" text-anchor="middle" fill="#111">15</text>
<text x="628.8" y="1398.8" font-size="33.5" text-anchor="middle" fill="#111">20</text>
<text x="752.1" y="1398.8" font-size="33.5" text-anchor="middle" fill="#111">25</text>
<text x="362.6" y="31.4" font-size="42" text-anchor="start" fill="#111">Fe<tspan font-size="24" dy="13">HR</tspan><tspan dy="-13">/Fe</tspan><tspan font-size="24" dy="13">T</tspan></text>
<g transform="translate(30.6,508) rotate(-90)">
<text x="0" y="0" font-size="42" text-anchor="start" fill="#111">Fe<tspan font-size="24" dy="13">pyr</tspan><tspan dy="-13">/Fe</tspan><tspan font-size="24" dy="13">HR</tspan></text>
</g>
<g transform="translate(893.2,1196.6) rotate(-90)">
<text x="0" y="0" font-size="42" text-anchor="start" fill="#111">δ<tspan font-size="23.5" dy="-14.3">34</tspan><tspan dy="14.3">S</tspan><tspan font-size="23.5" dy="12.5">pyr</tspan><tspan dy="-12.5"> (‰ VCDT)</tspan></text>
</g>
<text x="344.6" y="1445.2" font-size="50.5" text-anchor="start" fill="#111">TOC (%)</text>
<text x="3.6" y="36.3" font-size="49" text-anchor="start" font-weight="bold" fill="#111">a</text>
<text x="4.2" y="786" font-size="50" text-anchor="start" font-weight="bold" fill="#111">b</text>
<rect x="58.6" y="1497" width="14.6" height="14.6" fill="#9a4f1c"/>
<text x="90.8" y="1515" font-size="33.5" text-anchor="start" fill="#111">29MC - 102 mbsl</text>
<rect x="58.6" y="1538.67" width="14.6" height="14.6" fill="#bf2726"/>
<text x="90.8" y="1556.67" font-size="33.5" text-anchor="start" fill="#111">45MC - 153 mbsl</text>
<rect x="58.6" y="1580.34" width="14.6" height="14.6" fill="#dd2b1c"/>
<text x="90.8" y="1598.34" font-size="33.5" text-anchor="start" fill="#111">18MC - 255 mbsl</text>
<rect x="58.6" y="1622.01" width="14.6" height="14.6" fill="#878380"/>
<text x="90.8" y="1640.01" font-size="33.5" text-anchor="start" fill="#111">14MC - 657 mbsl</text>
<rect x="58.6" y="1663.68" width="14.6" height="14.6" fill="#050505"/>
<text x="90.8" y="1681.68" font-size="33.5" text-anchor="start" fill="#111">33MC - 1357 mbsl</text>
<rect x="58.6" y="1705.35" width="14.6" height="14.6" fill="#5ab0dc"/>
<text x="90.8" y="1723.35" font-size="33.5" text-anchor="start" fill="#111">680B - 252 mbsl</text>
<rect x="58.6" y="1747.02" width="14.6" height="14.6" fill="#2b3b78"/>
<text x="90.8" y="1765.02" font-size="33.5" text-anchor="start" fill="#111">686B - 457 mbsl</text>
<rect x="475.2" y="1497" width="14.8" height="14.6" fill="#78b1b0"/>
<text x="507.9" y="1512.9" font-size="33.5" text-anchor="start" fill="#111">BIGO-05 - 85 mbsl</text>
<rect x="475.2" y="1538.67" width="14.8" height="14.6" fill="#c5d3f0"/>
<text x="507.9" y="1554.57" font-size="33.5" text-anchor="start" fill="#111">MUC29 - 145 mbsl</text>
<rect x="475.2" y="1580.34" width="14.8" height="14.6" fill="#a3b7e3"/>
<text x="507.9" y="1596.24" font-size="33.5" text-anchor="start" fill="#111">BIGO-T - 259 mbsl</text>
<rect x="475.2" y="1622.01" width="14.8" height="14.6" fill="#3a5199"/>
<text x="507.9" y="1637.91" font-size="33.5" text-anchor="start" fill="#111">MUC-19 - 319 mbsl</text>
<rect x="475.2" y="1663.68" width="14.8" height="14.6" fill="#243265"/>
<text x="507.9" y="1679.58" font-size="33.5" text-anchor="start" fill="#111">MUC-25 - 697 mbsl</text>
<rect x="475.2" y="1705.35" width="14.8" height="14.6" fill="#8a9ab5"/>
<text x="507.9" y="1721.25" font-size="33.5" text-anchor="start" fill="#111">MUC-15 - 930 mbsl</text>
<rect x="475.2" y="1747.02" width="14.8" height="14.6" fill="#323748"/>
<text x="507.9" y="1762.92" font-size="33.5" text-anchor="start" fill="#111">MUC-53 - 1005 mbsl</text>
<rect x="58.6" y="1831.4" width="14.5" height="14.5" fill="#10b232"/>
<rect x="100.6" y="1831.8" width="13.6" height="13.4" fill="#b5d93c" stroke="#111" stroke-width="1.5"/>
<text x="137.8" y="1846.6" font-size="33.5" text-anchor="start" fill="#111">1229 (681B) -150 mbsl</text>
<polygon points="65.8,1908.3 69.55,1916.44 78.45,1917.49 71.87,1923.57 73.62,1932.36 65.8,1927.98 57.98,1932.36 59.73,1923.57 53.15,1917.49 62.05,1916.44" fill="#111"/>
<polygon points="65.8,1918.5 66.68,1921.19 69.51,1921.19 67.22,1922.86 68.09,1925.56 65.8,1923.89 63.51,1925.56 64.38,1922.86 62.09,1921.19 64.92,1921.19" fill="#fff"/>
<polygon points="65.8,1954.5 57.1,1971.9 74.5,1971.9" fill="#111"/>
<circle cx="65.8" cy="2004.4" r="8.6" fill="#111"/>
<path d="M69.35 2047.13 L77.81 2049.25 L78.11 2045.66 L69.42 2046.34ZM68.56 2048.89 L75.06 2054.69 L76.99 2051.65 L68.99 2048.21ZM67.04 2050.07 L70.1 2058.23 L73.23 2056.44 L67.74 2049.67ZM65.15 2050.41 L64.07 2059.06 L67.67 2058.92 L65.95 2050.38ZM63.31 2049.84 L58.34 2056.99 L61.59 2058.54 L64.03 2050.18ZM61.96 2048.47 L54.23 2052.49 L56.38 2055.38 L62.43 2049.11ZM61.39 2046.63 L52.67 2046.6 L53.24 2050.16 L61.51 2047.42ZM61.74 2044.74 L54.04 2040.67 L52.89 2044.08 L61.48 2045.5ZM62.93 2043.23 L58 2036.04 L55.4 2038.53 L62.35 2043.78ZM64.68 2042.44 L63.66 2033.79 L60.2 2034.78 L63.91 2042.66ZM66.6 2042.56 L69.72 2034.43 L66.2 2033.7 L65.82 2042.4ZM68.25 2043.56 L74.79 2037.81 L72.01 2035.52 L67.63 2043.06ZM69.24 2045.21 L77.71 2043.16 L76.31 2039.84 L68.93 2044.48Z" fill="#111"/>
<text x="90.5" y="1930.5" font-size="33.5" text-anchor="start" fill="#111">Sed-water interface</text>
<text x="90.5" y="1971.5" font-size="33.5" text-anchor="start" fill="#111">Core-top samples</text>
<text x="90.5" y="2013.2" font-size="33.5" text-anchor="start" fill="#111">Buried samples</text>
<text x="90.5" y="2054.8" font-size="33.5" text-anchor="start" fill="#111">SMTZ samples</text>
<polygon points="482.4,1913.1 485,1918.73 491.15,1919.46 486.6,1923.66 487.81,1929.74 482.4,1926.72 476.99,1929.74 478.2,1923.66 473.65,1919.46 479.8,1918.73" fill="#111"/>
<polygon points="524.4,1912.75 515.75,1930.05 533.05,1930.05" fill="#111"/>
<circle cx="565.9" cy="1921.4" r="8.6" fill="#111"/>
<polygon points="482.4,1952 485.47,1959.38 493.43,1960.02 487.36,1965.21 489.22,1972.98 482.4,1968.82 475.58,1972.98 477.44,1965.21 471.37,1960.02 479.33,1959.38" fill="none" stroke="#111" stroke-width="1.7"/>
<polygon points="524.4,1952.85 514.85,1971.95 533.95,1971.95" fill="none" stroke="#111" stroke-width="1.7"/>
<text x="590.2" y="1930" font-size="33.5" text-anchor="start" fill="#111">OMZ</text>
<text x="590.2" y="1971" font-size="33.5" text-anchor="start" fill="#111">Non-OMZ</text>
</svg>
</body></html>
